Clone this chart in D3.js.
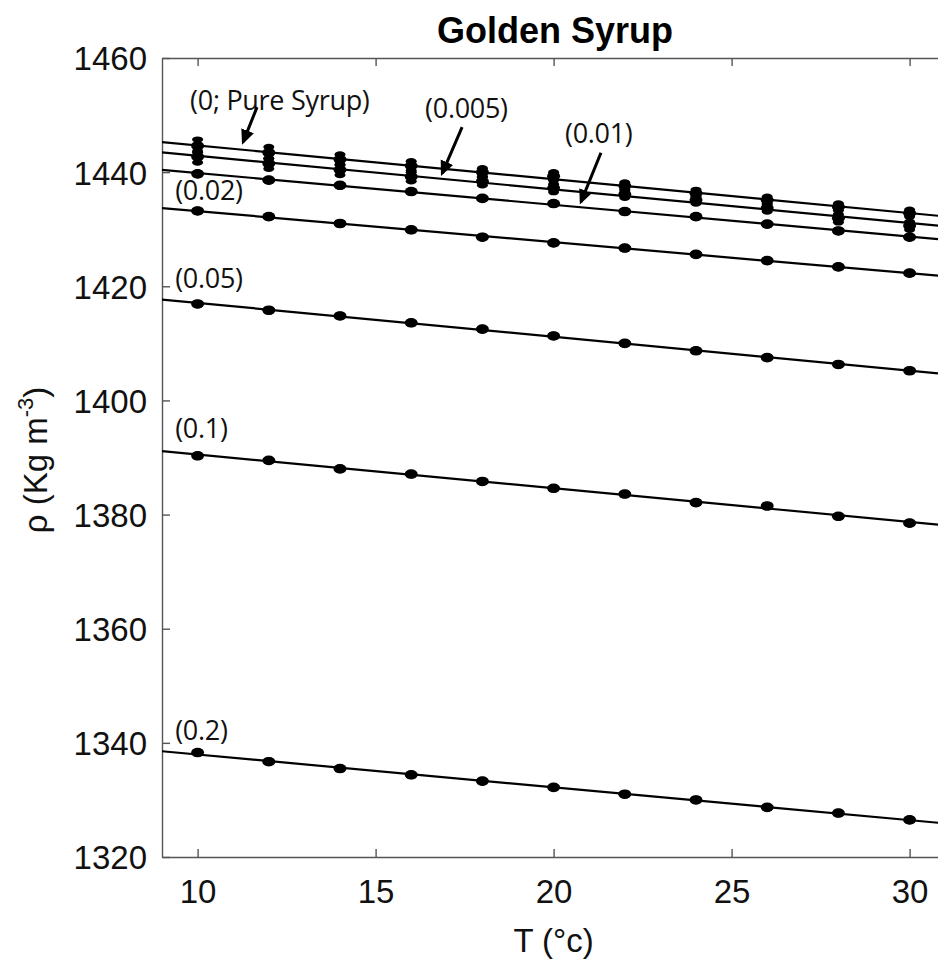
<!DOCTYPE html>
<html>
<head>
<meta charset="utf-8">
<script src="https://cdn.jsdelivr.net/npm/d3@7"></script>
<style>
  body { margin: 0; background: #fff; }
  svg { display: block; }
</style>
</head>
<body>
<svg id="chart" width="938" height="959"></svg>
<script>
// temperature (deg C) where density was measured
var temps = [10, 12, 14, 16, 18, 20, 22, 24, 26, 28, 30];

// density (kg/m3) for each water fraction
var rhoPure = [1444.6, 1443.4, 1442.2, 1441.1, 1440.0, 1439.3, 1437.6, 1436.3, 1435.1, 1433.9, 1432.8];
var rho005 = [1442.7, 1441.5, 1440.4, 1439.2, 1438.4, 1437.2, 1436.1, 1435.1, 1433.7, 1431.9, 1430.6];
var rho01 = [1439.7, 1438.6, 1437.7, 1436.6, 1435.4, 1434.5, 1433.1, 1432.2, 1430.9, 1429.7, 1428.6];
var rho02 = [1433.2, 1432.2, 1431.0, 1429.9, 1428.6, 1427.6, 1426.7, 1425.6, 1424.5, 1423.4, 1422.3];
var rho05 = [1416.9, 1415.8, 1414.8, 1413.6, 1412.5, 1411.3, 1410.0, 1408.7, 1407.5, 1406.3, 1405.2];
var rho1 = [1390.3, 1389.5, 1388.0, 1387.1, 1385.8, 1384.6, 1383.6, 1382.1, 1381.5, 1379.7, 1378.5];
var rho2 = [1338.3, 1336.7, 1335.5, 1334.4, 1333.3, 1332.2, 1331.0, 1330.0, 1328.7, 1327.7, 1326.5];

// error bar half widths
var errPure = [1.1, 1.0, 0.9, 0.8, 0.7, 0.7, 0.6, 0.6, 0.6, 0.6, 0.6];
var err005 = [1.0, 0.9, 0.9, 0.8, 0.7, 0.7, 0.6, 0.6, 0.6, 0.7, 0.7];
var errSmall = [0.2, 0.2, 0.2, 0.2, 0.2, 0.2, 0.2, 0.2, 0.2, 0.2, 0.2];

var seriesNames = ['0', '0.005', '0.01', '0.02', '0.05', '0.1', '0.2'];
var seriesValues = [rhoPure, rho005, rho01, rho02, rho05, rho1, rho2];
var seriesErrors = [errPure, err005, errSmall, errSmall, errSmall, errSmall, errSmall];

// axis ticks
var xTicks = [10, 15, 20, 25, 30];
var yTicks = [1320, 1340, 1360, 1380, 1400, 1420, 1440, 1460];

// annotation texts, anchored in data units
var labelTexts = ['(0; Pure Syrup)', '(0.005)', '(0.01)', '(0.02)', '(0.05)', '(0.1)', '(0.2)'];
var labelT = [9.79, 16.39, 20.32, 9.37, 9.37, 9.37, 9.37];
var labelRho = [1450.9, 1449.5, 1445.1, 1435.1, 1419.7, 1393.4, 1340.5];

// arrows: start (T, rho) -> tip (T, rho)
var arrows = [
    [11.67, 1451.4, 11.28, 1445.3],
    [17.43, 1447.9, 16.87, 1439.8],
    [21.33, 1443.4, 20.77, 1434.8]
];

(function () {
    var svg = d3.select('#chart');
    var plotLeft = 162, plotTop = 58, plotBottom = 857;
    var xs = d3.scaleLinear().domain([9, 31]).range([plotLeft, plotLeft + 22 * 35.6]);
    var ys = d3.scaleLinear().domain([1320, 1460]).range([plotBottom, plotTop]);
    var plotRight = xs(31);

    var defs = svg.append('defs');
    defs.append('clipPath').attr('id', 'plotclip')
        .append('rect')
        .attr('x', plotLeft).attr('y', plotTop)
        .attr('width', plotRight - plotLeft).attr('height', plotBottom - plotTop);

    defs.append('marker')
        .attr('id', 'head')
        .attr('viewBox', '0 0 10 10')
        .attr('refX', 8).attr('refY', 5)
        .attr('markerWidth', 5).attr('markerHeight', 5)
        .attr('markerUnits', 'strokeWidth')
        .attr('orient', 'auto')
        .append('path')
        .attr('d', 'M0,0.5 L10,5 L0,9.5 z')
        .attr('fill', '#000');

    // frame
    var axisColor = '#555';
    var fontTick = '"Liberation Sans", Arial, Helvetica, sans-serif';

    var gx = svg.append('g')
        .attr('transform', 'translate(0,' + plotBottom + ')')
        .call(d3.axisBottom(xs).tickValues(xTicks).tickSizeInner(-8).tickSizeOuter(0).tickPadding(23));
    var gxTop = svg.append('g')
        .attr('transform', 'translate(0,' + plotTop + ')')
        .call(d3.axisTop(xs).tickValues(xTicks).tickSizeInner(-8).tickSizeOuter(0).tickFormat(''));
    var gy = svg.append('g')
        .attr('transform', 'translate(' + plotLeft + ',0)')
        .call(d3.axisLeft(ys).tickValues(yTicks).tickFormat(d3.format('d'))
            .tickSizeInner(-8).tickSizeOuter(0).tickPadding(15));

    [gx, gxTop, gy].forEach(function (g) {
        g.select('.domain').attr('stroke', axisColor).attr('stroke-width', 1.4);
        g.selectAll('.tick line').attr('stroke', axisColor).attr('stroke-width', 1.4);
        g.selectAll('.tick text')
            .attr('fill', '#111')
            .style('font-family', fontTick)
            .style('font-size', '33px');
    });
    gy.selectAll('.tick text').attr('dy', '0.36em');

    // fitted lines and points
    var plot = svg.append('g').attr('clip-path', 'url(#plotclip)');

    function linearFit(xv, yv) {
        var mx = d3.mean(xv), my = d3.mean(yv);
        var sxy = 0, sxx = 0;
        for (var i = 0; i < xv.length; i++) {
            sxy += (xv[i] - mx) * (yv[i] - my);
            sxx += (xv[i] - mx) * (xv[i] - mx);
        }
        var b = sxy / sxx;
        return function (t) { return my + b * (t - mx); };
    }

    seriesValues.forEach(function (vals, s) {
        var fit = linearFit(temps, vals);
        var g = plot.append('g').attr('class', 'series s' + s);

        g.append('line')
            .attr('x1', xs(9)).attr('y1', ys(fit(9)))
            .attr('x2', xs(31)).attr('y2', ys(fit(31)))
            .attr('stroke', '#000')
            .attr('stroke-width', 2.2);

        var errs = seriesErrors[s];
        var pts = g.selectAll('g.pt').data(temps).enter().append('g').attr('class', 'pt');

        pts.append('line')
            .attr('x1', function (d) { return xs(d); })
            .attr('x2', function (d) { return xs(d); })
            .attr('y1', function (d, i) { return ys(vals[i] - errs[i]); })
            .attr('y2', function (d, i) { return ys(vals[i] + errs[i]); })
            .attr('stroke', '#000').attr('stroke-width', 4);
        [-1, 1].forEach(function (sign) {
            pts.append('ellipse')
                .attr('cx', function (d) { return xs(d); })
                .attr('cy', function (d, i) { return ys(vals[i] + sign * errs[i]); })
                .attr('rx', 5.5).attr('ry', 3.2)
                .attr('fill', '#000');
        });
        pts.append('ellipse')
            .attr('cx', function (d) { return xs(d); })
            .attr('cy', function (d, i) { return ys(vals[i]); })
            .attr('rx', 6.5).attr('ry', 4.8)
            .attr('fill', '#000');
    });

    // annotations
    var fontNote = '"Open Sans", "Noto Sans", sans-serif';
    svg.append('g').selectAll('text').data(labelTexts).enter().append('text')
        .attr('x', function (d, i) { return xs(labelT[i]); })
        .attr('y', function (d, i) { return ys(labelRho[i]); })
        .style('font-family', fontNote)
        .style('font-size', '27px')
        .style('letter-spacing', '-0.3px')
        .attr('fill', '#111')
        .text(function (d) { return d; });

    svg.append('g').selectAll('line').data(arrows).enter().append('line')
        .attr('x1', function (d) { return xs(d[0]); })
        .attr('y1', function (d) { return ys(d[1]); })
        .attr('x2', function (d) { return xs(d[2]); })
        .attr('y2', function (d) { return ys(d[3]); })
        .attr('stroke', '#000')
        .attr('stroke-width', 3)
        .attr('marker-end', 'url(#head)');

    // titles
    svg.append('text')
        .attr('x', 555).attr('y', 43)
        .attr('text-anchor', 'middle')
        .style('font-family', fontTick)
        .style('font-weight', 'bold')
        .style('font-size', '36px')
        .attr('fill', '#000')
        .text('Golden Syrup');

    svg.append('text')
        .attr('x', xs(20)).attr('y', 952)
        .attr('text-anchor', 'middle')
        .style('font-family', fontTick)
        .style('font-size', '33px')
        .attr('fill', '#111')
        .text('T (°c)');

    var ytitle = svg.append('text')
        .attr('transform', 'translate(47,460) rotate(-90)')
        .attr('text-anchor', 'middle')
        .style('font-family', fontTick)
        .style('font-size', '33px')
        .attr('fill', '#111');
    ytitle.append('tspan').text('ρ (Kg m');
    ytitle.append('tspan').attr('dy', -14).style('font-size', '22px').text('-3');
    ytitle.append('tspan').attr('dy', 14).text(')');
})();
</script>
</body>
</html>
